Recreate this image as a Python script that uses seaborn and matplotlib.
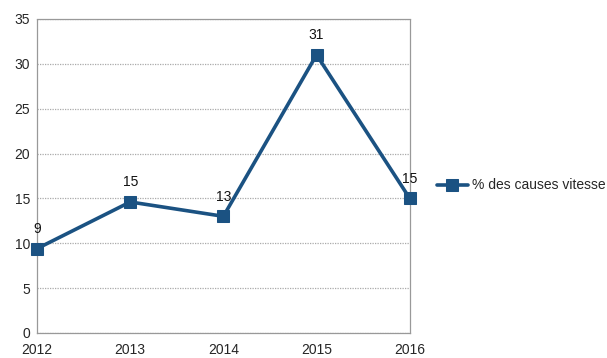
import matplotlib
matplotlib.use("Agg")
import matplotlib.pyplot as plt
import seaborn as sns
import pandas as pd

# Données
annees = [2012, 2013, 2014, 2015, 2016]
valeurs = [9.4, 14.6, 13.0, 31.0, 15.0]
etiquettes = ["9", "15", "13", "31", "15"]
serie = "% des causes vitesse"

df = pd.DataFrame({"annee": annees, "valeur": valeurs})

sns.set_style("white")
plt.rcParams["font.family"] = ["Liberation Sans", "DejaVu Sans"]

fig = plt.figure(figsize=(6.07, 3.58), dpi=100)
ax = fig.add_axes([0.061, 0.07, 0.614, 0.877])

couleur = "#1b5282"
sns.lineplot(data=df, x="annee", y="valeur", ax=ax, color=couleur, linewidth=2.6,
             marker="s", markersize=9, markeredgecolor=couleur, label=serie,
             clip_on=False, zorder=3)

for x, y, t in zip(annees, valeurs, etiquettes):
    ax.annotate(t, (x, y), xytext=(0, 9), textcoords="offset points",
                ha="center", va="bottom", fontsize=10, color="#111111")

ax.set_xlim(2012, 2016)
ax.set_ylim(0, 35)
ax.set_xticks(annees)
ax.set_yticks(range(0, 36, 5))
ax.tick_params(labelsize=10, length=3, color="#999999", pad=2)
ax.tick_params(axis="x", pad=4)
ax.set_xlabel("")
ax.set_ylabel("")
ax.grid(axis="y", color="#aaaaaa", linestyle=(0, (1, 1)), linewidth=0.9)
for s in ax.spines.values():
    s.set_color("#999999")
    s.set_linestyle((0, (2, 1)))
    s.set_linewidth(0.9)

ax.legend(loc="center left", bbox_to_anchor=(1.04, 0.47), frameon=False,
          fontsize=10, handlelength=2.2, handletextpad=0.3)

fig.savefig("out.png", dpi=100)
